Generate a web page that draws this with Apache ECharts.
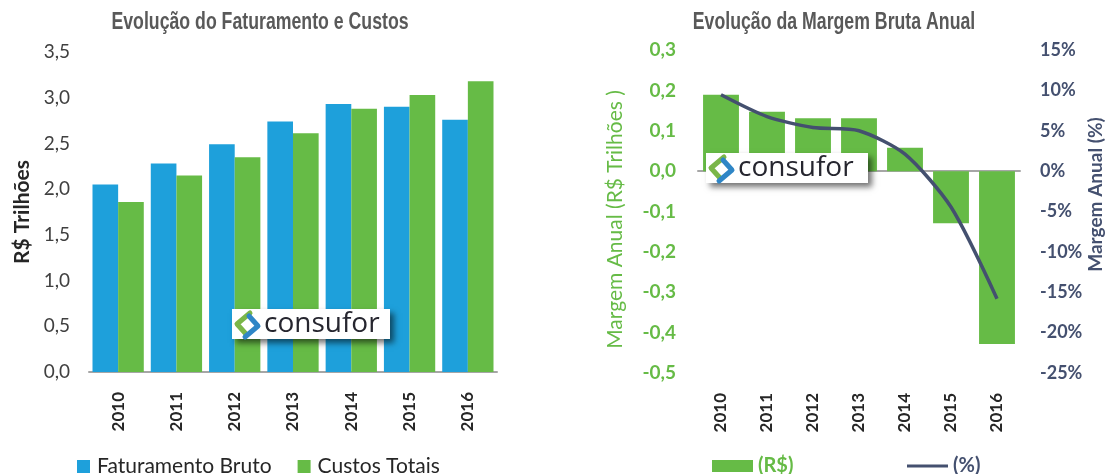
<!DOCTYPE html>
<html lang="pt">
<head>
    <meta charset="UTF-8">
    <title>Faturamento e Margem</title>
    <style>
        html, body { margin: 0; padding: 0; background: #fff; }
        #chart { width: 1107px; height: 474px; }
    </style>
</head>
<body>
<div id="chart"></div>
<script src="https://cdn.jsdelivr.net/npm/echarts@6/dist/echarts.min.js"></script>
<script>
    // dados
    var anos = ['2010', '2011', '2012', '2013', '2014', '2015', '2016'];
    var faturamentoBruto = [2.05, 2.28, 2.49, 2.74, 2.93, 2.90, 2.76];
    var custosTotais = [1.86, 2.15, 2.35, 2.61, 2.88, 3.03, 3.18];
    var margemReais = [0.189, 0.147, 0.131, 0.131, 0.058, -0.129, -0.428];
    var margemPct = [9.45, 6.75, 5.4, 5.0, 2.1, -4.45, -15.8];

    var azul = '#1ea0db', verde = '#66bb46', ardosia = '#44506f', eixo = '#a6a6a6';
    var fonte = 'Lato, "Open Sans", sans-serif';

    function virgula(v) {
        return v.toFixed(1).replace('.', ',');
    }

    // titulo em fonte condensada (comprimida na horizontal)
    function titulo(texto, cx) {
        return {
            type: 'text', x: cx, y: 23, scaleX: 0.77, z: 100,
            style: {text: texto, fill: '#595959', font: 'bold 23px "Liberation Sans", sans-serif',
                align: 'center', verticalAlign: 'middle'}
        };
    }

    // logo consufor desenhado por cima dos graficos
    function logo(x, y, w, h) {
        return {
            type: 'group', x: x, y: y,
            children: [
                {type: 'rect', z: 100, shape: {x: 0, y: 0, width: w, height: h},
                    style: {fill: '#fff', shadowBlur: 6, shadowOffsetX: 4, shadowOffsetY: 4, shadowColor: 'rgba(0,0,0,0.55)'}},
                {type: 'polyline', z: 101, shape: {points: [[18, 4], [5, 15], [14, 25]]},
                    style: {stroke: '#7ab648', lineWidth: 5, fill: null, lineCap: 'round', lineJoin: 'round'}},
                {type: 'polyline', z: 101, shape: {points: [[13, 28], [26, 17], [17, 7]]},
                    style: {stroke: '#2f86c6', lineWidth: 5, fill: null, lineCap: 'round', lineJoin: 'round'}},
                {type: 'text', z: 101, x: 32, y: h / 2,
                    style: {text: 'consufor', fill: '#26262f', font: '28px "Open Sans", sans-serif', verticalAlign: 'middle'}}
            ]
        };
    }

    var chart = echarts.init(document.getElementById('chart'));
    chart.setOption({
        animation: false,
        legend: [
            {data: ['Faturamento Bruto', 'Custos Totais'], left: 72, top: 451, icon: 'rect',
                itemWidth: 13, itemHeight: 13, itemGap: 26, selectedMode: false,
                textStyle: {fontFamily: fonte, fontSize: 21, color: '#262626', padding: [0, 0, 0, 2]}},
            {data: ['(R$)'], left: 707, top: 451, icon: 'rect', itemWidth: 41, itemHeight: 12, selectedMode: false,
                textStyle: {fontFamily: fonte, fontSize: 20, fontWeight: 'bold', color: verde}},
            {data: ['(%)'], left: 902, top: 451, icon: 'rect', itemWidth: 41, itemHeight: 3, selectedMode: false,
                textStyle: {fontFamily: fonte, fontSize: 20, fontWeight: 'bold', color: ardosia}}
        ],
        grid: [
            {left: 89, right: 610, top: 52, bottom: 102},
            {left: 698, right: 87, top: 50, bottom: 101}
        ],
        xAxis: [
            {gridIndex: 0, type: 'category', data: anos,
                axisLine: {lineStyle: {color: eixo, width: 2}},
                axisTick: {length: 6, lineStyle: {color: eixo, width: 2}},
                axisLabel: {rotate: 90, margin: 20, fontFamily: fonte, fontWeight: 'bold', fontSize: 17, color: '#262626'}},
            {gridIndex: 1, type: 'category', data: anos, position: 'bottom',
                axisLine: {show: false}, axisTick: {show: false},
                axisLabel: {rotate: 90, margin: 20, fontFamily: fonte, fontWeight: 'bold', fontSize: 17, color: '#262626'}},
            {gridIndex: 1, type: 'category', data: anos, position: 'bottom',
                axisLine: {onZero: true, lineStyle: {color: eixo, width: 2}},
                axisTick: {length: 6, lineStyle: {color: eixo, width: 2}},
                axisLabel: {show: false}}
        ],
        yAxis: [
            {gridIndex: 0, type: 'value', min: 0, max: 3.5, interval: 0.5,
                name: 'R$ Trilhões', nameLocation: 'middle', nameGap: 56,
                nameTextStyle: {fontFamily: fonte, fontWeight: 'bold', fontSize: 21, color: '#262626'},
                axisLine: {show: false}, axisTick: {show: false}, splitLine: {show: false},
                axisLabel: {margin: 19, fontFamily: fonte, fontSize: 19, color: '#404040', formatter: virgula}},
            {gridIndex: 1, type: 'value', min: -0.5, max: 0.3, interval: 0.1,
                name: 'Margem Anual (R$ Trilhões )', nameLocation: 'middle', nameGap: 72,
                nameTextStyle: {fontFamily: fonte, fontSize: 21, color: verde, padding: [0, 16, 0, 0]},
                axisLine: {show: false}, axisTick: {show: false}, splitLine: {show: false},
                axisLabel: {margin: 22, fontFamily: fonte, fontWeight: 'bold', fontSize: 19, color: verde, formatter: virgula}},
            {gridIndex: 1, type: 'value', position: 'right', min: -25, max: 15, interval: 5,
                name: 'Margem Anual (%)', nameLocation: 'middle', nameGap: 64,
                nameTextStyle: {fontFamily: fonte, fontWeight: 'bold', fontSize: 19, color: ardosia, padding: [0, 0, 0, 34]},
                axisLine: {show: false}, axisTick: {show: false}, splitLine: {show: false},
                axisLabel: {margin: 20, fontFamily: fonte, fontWeight: 'bold', fontSize: 18, color: ardosia,
                    formatter: function (v) { return v + '%'; }}}
        ],
        series: [
            {name: 'Faturamento Bruto', type: 'bar', xAxisIndex: 0, yAxisIndex: 0, data: faturamentoBruto,
                itemStyle: {color: azul}, barGap: '0%', barCategoryGap: '12%'},
            {name: 'Custos Totais', type: 'bar', xAxisIndex: 0, yAxisIndex: 0, data: custosTotais,
                itemStyle: {color: verde}},
            {name: '(R$)', type: 'bar', xAxisIndex: 1, yAxisIndex: 1, data: margemReais,
                itemStyle: {color: verde}, barCategoryGap: '22%'},
            {name: '(%)', type: 'line', xAxisIndex: 1, yAxisIndex: 2, data: margemPct, z: 5,
                smooth: 0.25, symbol: 'none', itemStyle: {color: ardosia},
                lineStyle: {color: ardosia, width: 3.5}}
        ],
        graphic: [
            titulo('Evolução do Faturamento e Custos', 260),
            titulo('Evolução da Margem Bruta Anual', 834),
            logo(232, 309, 158, 30),
            logo(706, 153, 162, 30)
        ]
    });
</script>
</body>
</html>
